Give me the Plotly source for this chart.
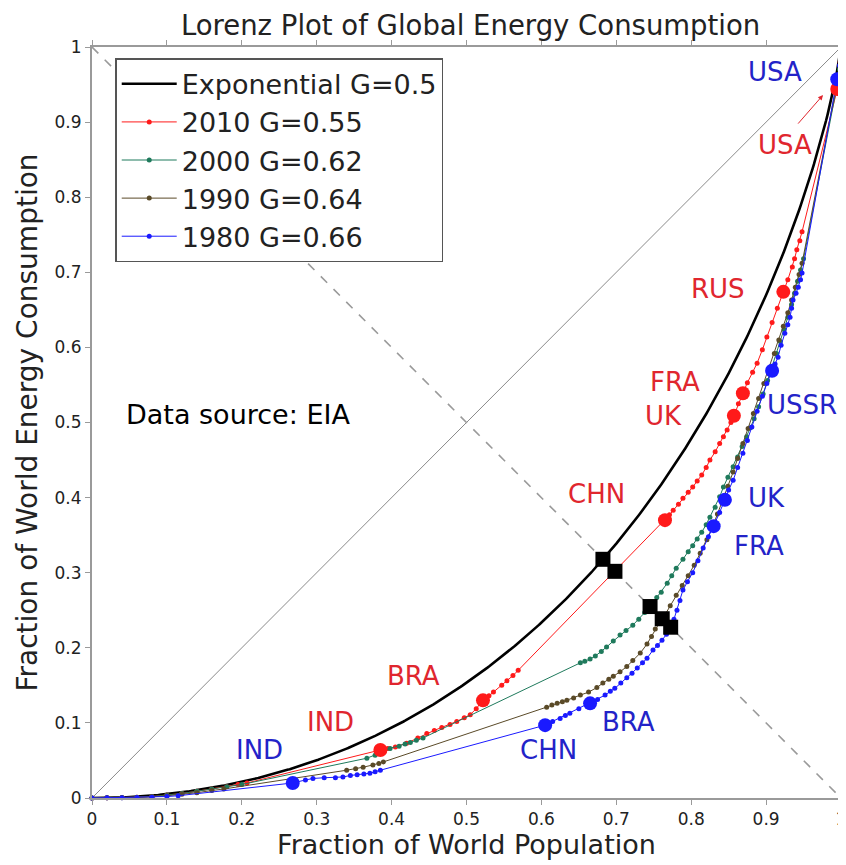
import numpy as np
import plotly.graph_objects as go

# ---------------- data ----------------
x2010 = [0, 0.02, 0.04, 0.06, 0.08, 0.10, 0.12, 0.14, 0.16, 0.18, 0.195, 0.207,
         0.385, 0.395, 0.405, 0.42, 0.435, 0.447, 0.457, 0.467, 0.478, 0.487, 0.497, 0.505, 0.513,
         0.522, 0.530, 0.536, 0.547, 0.554, 0.562, 0.569,
         0.765, 0.771, 0.776, 0.783, 0.789, 0.796, 0.802, 0.808, 0.814, 0.820, 0.825, 0.832, 0.838, 0.843, 0.848, 0.853,
         0.857, 0.863, 0.869, 0.875, 0.882, 0.888, 0.895, 0.901, 0.908, 0.915,
         0.923, 0.929, 0.935, 0.938, 0.941, 0.945, 0.948,
         0.995, 0.997, 0.999, 1.0]
y2010 = [0, 0.0002, 0.0005, 0.001, 0.002, 0.004, 0.006, 0.009, 0.012, 0.015, 0.018, 0.020,
         0.064, 0.066, 0.068, 0.073, 0.080, 0.086, 0.090, 0.094, 0.098, 0.102, 0.107, 0.111, 0.119,
         0.130, 0.136, 0.141, 0.150, 0.156, 0.163, 0.170,
         0.370, 0.377, 0.383, 0.391, 0.399, 0.407, 0.414, 0.422, 0.430, 0.440, 0.450, 0.461, 0.472, 0.481, 0.490, 0.500,
         0.509, 0.525, 0.539, 0.553, 0.567, 0.579, 0.597, 0.614, 0.633, 0.652,
         0.674, 0.690, 0.707, 0.718, 0.730, 0.742, 0.754,
         0.944, 0.960, 0.980, 1.0]

x2000 = [0, 0.02, 0.04, 0.06, 0.08, 0.10, 0.12, 0.14, 0.16, 0.18, 0.20,
         0.367, 0.378, 0.390, 0.398, 0.41, 0.418, 0.425, 0.433, 0.442,
         0.652, 0.658, 0.665, 0.672, 0.680, 0.687, 0.696, 0.705, 0.713, 0.722, 0.730, 0.738, 0.746,
         0.754, 0.760, 0.768, 0.774, 0.780, 0.789, 0.796, 0.802, 0.808, 0.814, 0.820, 0.825, 0.832,
         0.838, 0.843, 0.849, 0.856, 0.862, 0.868, 0.874, 0.879, 0.884, 0.890, 0.896, 0.902, 0.908,
         0.914, 0.919, 0.924, 0.929, 0.934, 0.938, 0.942, 0.946, 0.950,
         0.995, 0.998, 1.0]
y2000 = [0, 0.0002, 0.0005, 0.001, 0.002, 0.004, 0.006, 0.009, 0.012, 0.015, 0.018,
         0.053, 0.057, 0.062, 0.066, 0.069, 0.072, 0.074, 0.077, 0.080,
         0.180, 0.182, 0.185, 0.189, 0.195, 0.201, 0.209, 0.217, 0.223, 0.230, 0.238, 0.247, 0.256,
         0.267, 0.274, 0.286, 0.296, 0.306, 0.318, 0.328, 0.336, 0.345, 0.354, 0.364, 0.374, 0.387,
         0.401, 0.414, 0.427, 0.441, 0.454, 0.468, 0.481, 0.493, 0.505, 0.521, 0.538, 0.556, 0.574,
         0.592, 0.608, 0.624, 0.640, 0.657, 0.672, 0.688, 0.703, 0.718,
         0.950, 0.970, 1.0]

x1990 = [0, 0.02, 0.04, 0.06, 0.08, 0.10, 0.12, 0.14, 0.16, 0.176,
         0.340, 0.352, 0.362, 0.375, 0.383, 0.389,
         0.607, 0.614, 0.621, 0.628, 0.634, 0.643, 0.652, 0.663, 0.674, 0.682, 0.690, 0.696, 0.705,
         0.714, 0.722, 0.732, 0.741, 0.747, 0.752, 0.758, 0.765, 0.772, 0.780, 0.788, 0.796, 0.804,
         0.812, 0.821, 0.828, 0.835, 0.842, 0.849, 0.856, 0.862, 0.869, 0.876, 0.883, 0.890, 0.897,
         0.904, 0.911, 0.917, 0.923, 0.929, 0.934, 0.939, 0.944, 0.948,
         0.995, 1.0]
y1990 = [0, 0.0002, 0.0004, 0.0008, 0.0015, 0.003, 0.005, 0.007, 0.010, 0.012,
         0.037, 0.039, 0.041, 0.044, 0.046, 0.048,
         0.121, 0.124, 0.126, 0.128, 0.130, 0.133, 0.137, 0.141, 0.147, 0.153, 0.158, 0.162, 0.168,
         0.175, 0.183, 0.193, 0.205, 0.215, 0.225, 0.234, 0.244, 0.256, 0.270, 0.283, 0.296, 0.310,
         0.326, 0.344, 0.360, 0.378, 0.396, 0.415, 0.434, 0.452, 0.472, 0.492, 0.512, 0.532, 0.552,
         0.572, 0.592, 0.610, 0.628, 0.646, 0.663, 0.680, 0.697, 0.712,
         0.955, 1.0]

x1980 = [0, 0.02, 0.04, 0.06, 0.08, 0.10, 0.115,
         0.268, 0.285, 0.295, 0.31, 0.325, 0.335, 0.345, 0.354, 0.363, 0.371, 0.378, 0.385,
         0.605, 0.615, 0.625, 0.632, 0.638, 0.650,
         0.665, 0.675, 0.685, 0.692, 0.698, 0.706, 0.714, 0.721, 0.728, 0.735, 0.741, 0.749, 0.755,
         0.761, 0.767, 0.772, 0.777, 0.781, 0.785, 0.789, 0.795, 0.802, 0.809, 0.816, 0.823,
         0.830, 0.838, 0.845, 0.850, 0.856, 0.862, 0.869, 0.875, 0.881, 0.888, 0.895, 0.901,
         0.908, 0.912, 0.916, 0.920, 0.925, 0.929, 0.932, 0.934, 0.936, 0.940, 0.943, 0.946, 0.948,
         0.995, 0.998, 1.0]
y1980 = [0, 0.0002, 0.0004, 0.0007, 0.001, 0.002, 0.003,
         0.020, 0.024, 0.026, 0.027, 0.027, 0.028, 0.030, 0.031, 0.032, 0.033, 0.035, 0.037,
         0.097, 0.102, 0.106, 0.110, 0.113, 0.119,
         0.126, 0.131, 0.137, 0.142, 0.146, 0.153, 0.160, 0.166, 0.173, 0.180, 0.186, 0.197, 0.203,
         0.210, 0.218, 0.226, 0.238, 0.250, 0.263, 0.277, 0.288, 0.300, 0.316, 0.333, 0.348,
         0.362, 0.380, 0.397, 0.410, 0.423, 0.440, 0.459, 0.476, 0.494, 0.515, 0.535, 0.552,
         0.569, 0.578, 0.587, 0.603, 0.619, 0.630, 0.640, 0.652, 0.663, 0.672, 0.680, 0.690, 0.699,
         0.957, 0.975, 1.0]

hl2010_names = ["IND", "BRA", "CHN", "UK", "FRA", "RUS", "USA"]
hl2010_x = [0.385, 0.522, 0.765, 0.857, 0.869, 0.923, 0.995]
hl2010_y = [0.064, 0.130, 0.370, 0.509, 0.539, 0.674, 0.944]

hl1980_names = ["IND", "CHN", "BRA", "FRA", "UK", "USSR", "USA"]
hl1980_x = [0.268, 0.605, 0.665, 0.830, 0.845, 0.908, 0.995]
hl1980_y = [0.020, 0.097, 0.126, 0.362, 0.397, 0.569, 0.957]

legend_names = ["Exponential G=0.5", "2010 G=0.55", "2000 G=0.62", "1990 G=0.64", "1980 G=0.66"]
tick_vals = [0, 0.1, 0.2, 0.3, 0.4, 0.5, 0.6, 0.7, 0.8, 0.9, 1]
tick_text = ["0", "0.1", "0.2", "0.3", "0.4", "0.5", "0.6", "0.7", "0.8", "0.9", "1"]

# exponential distribution Lorenz curve (theoretical, Gini = 0.5)
p = np.linspace(0, 1, 501)[:-1]
p_exp = np.append(p, 1.0)
L_exp = np.append(p + (1 - p) * np.log(1 - p), 1.0)

# ---------------- styling ----------------
FONT = "DejaVu Sans"
RED = "#ff1a1a"
GREEN = "#1f7a5c"
BROWN = "#5a4a28"
BLUE = "#1a1aff"
RED_TXT = "#e0262e"
BLUE_TXT = "#2323c8"


def anti_diag_cross(xs, ys):
    xs = np.asarray(xs, float)
    ys = np.asarray(ys, float)
    d = xs + ys - 1
    i = np.where((d[:-1] < 0) & (d[1:] >= 0))[0][0]
    t = -d[i] / (d[i + 1] - d[i])
    return xs[i] + t * (xs[i + 1] - xs[i]), ys[i] + t * (ys[i + 1] - ys[i])


fig = go.Figure()

# reference lines
fig.add_trace(go.Scatter(x=[0, 1], y=[0, 1], mode="lines",
                         line=dict(color="#8a8a8a", width=1), showlegend=False, hoverinfo="skip"))
fig.add_trace(go.Scatter(x=[0, 1], y=[1, 0], mode="lines",
                         line=dict(color="#9a9a9a", width=1.6, dash="dash"), showlegend=False,
                         hoverinfo="skip"))

series = [
    (x2010, y2010, RED, legend_names[1]),
    (x2000, y2000, GREEN, legend_names[2]),
    (x1990, y1990, BROWN, legend_names[3]),
    (x1980, y1980, BLUE, legend_names[4]),
]

fig.add_trace(go.Scatter(x=p_exp, y=L_exp, mode="lines", name=legend_names[0],
                         line=dict(color="black", width=2.6), legendgroup="e"))

for i, (xs, ys, col, nm) in enumerate(series):
    fig.add_trace(go.Scatter(x=xs, y=ys, mode="lines+markers", name=nm,
                             line=dict(color=col, width=1),
                             marker=dict(color=col, size=5),
                             legendgroup="g%d" % i, cliponaxis=False))

# highlighted countries
fig.add_trace(go.Scatter(x=hl2010_x, y=hl2010_y, mode="markers", showlegend=False,
                         marker=dict(color=RED, size=14), cliponaxis=False))
fig.add_trace(go.Scatter(x=hl1980_x, y=hl1980_y, mode="markers", showlegend=False,
                         marker=dict(color=BLUE, size=14), cliponaxis=False))

# intersections with anti-diagonal
cx, cy = [], []
for xs, ys in [(p_exp, L_exp), (x2010, y2010), (x2000, y2000), (x1990, y1990), (x1980, y1980)]:
    a, b = anti_diag_cross(xs, ys)
    cx.append(a)
    cy.append(b)
fig.add_trace(go.Scatter(x=cx, y=cy, mode="markers", showlegend=False,
                         marker=dict(color="black", size=15, symbol="square")))

# country labels
lab2010_pos = [(0.318, 0.101), (0.429, 0.162), (0.673, 0.405), (0.763, 0.509),
               (0.778, 0.554), (0.836, 0.678), (0.925, 0.870)]
lab1980_pos = [(0.223, 0.064), (0.609, 0.064), (0.716, 0.101), (0.891, 0.336),
               (0.900, 0.399), (0.948, 0.523), (0.912, 0.967)]
annotations = []
for name, (ax_, ay_) in zip(hl2010_names, lab2010_pos):
    annotations.append(dict(x=ax_, y=ay_, text=name, showarrow=False,
                            font=dict(family=FONT, size=26, color=RED_TXT)))
for name, (ax_, ay_) in zip(hl1980_names, lab1980_pos):
    annotations.append(dict(x=ax_, y=ay_, text=name, showarrow=False,
                            font=dict(family=FONT, size=26, color=BLUE_TXT)))
# arrow to red USA
annotations.append(dict(x=0.976, y=0.936, ax=0.941, ay=0.896, axref="x", ayref="y",
                        xref="x", yref="y", text="", showarrow=True, arrowhead=2,
                        arrowsize=1, arrowwidth=1, arrowcolor=RED_TXT))
annotations.append(dict(x=0.043, y=0.511, xanchor="left", text="Data source: EIA", showarrow=False,
                        font=dict(family=FONT, size=27, color="black")))

axis_common = dict(range=[0, 1], tickvals=tick_vals, ticktext=tick_text,
                   showline=True, linecolor="#9a9a9a", linewidth=2, mirror="ticks",
                   ticks="outside", ticklen=5, tickcolor="#9a9a9a", tickwidth=1,
                   showgrid=False, zeroline=False, automargin=False,
                   ticklabeloverflow="allow",
                   tickfont=dict(family=FONT, size=17, color="#222"))

# the page adds an 8 px body margin, so the figure is offset by (8, 8)
fig.update_layout(
    width=838, height=857,
    margin=dict(l=84, r=5, t=39, b=67),
    paper_bgcolor="white", plot_bgcolor="white",
    title=dict(text="Lorenz Plot of Global Energy Consumption", x=0.552, xanchor="center",
               y=1 - 17 / 857, yanchor="middle",
               font=dict(family=FONT, size=27.5, color="#222")),
    xaxis=dict(axis_common, title=dict(text="Fraction of World Population", standoff=6,
                                       font=dict(family=FONT, size=27, color="#222"))),
    yaxis=dict(axis_common, title=dict(text="Fraction of World Energy Consumption", standoff=9,
                                       font=dict(family=FONT, size=28, color="#222"))),
    legend=dict(x=0.031, y=0.985, xanchor="left", yanchor="top",
                bordercolor="#555", borderwidth=1.5, bgcolor="white", itemwidth=55,
                font=dict(family=FONT, size=27, color="#222"), tracegroupgap=0),
    annotations=annotations,
    showlegend=True,
)

fig.write_html("out.html")
